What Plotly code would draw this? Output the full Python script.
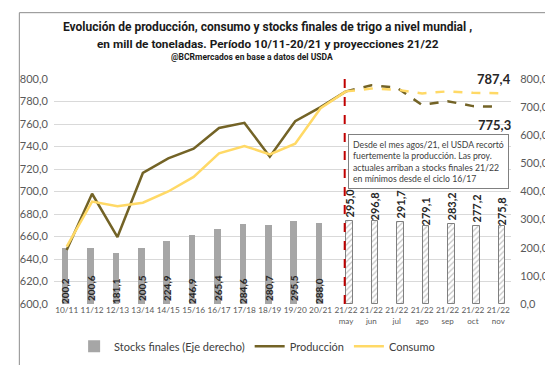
import plotly.graph_objects as go

# ---------------- data ----------------
categories = ["10/11", "11/12", "12/13", "13/14", "14/15", "15/16", "16/17", "17/18",
              "18/19", "19/20", "20/21", "21/22 may", "21/22 jun", "21/22 jul",
              "21/22 ago", "21/22 sep", "21/22 oct", "21/22 nov"]
tick_top = ["10/11", "11/12", "12/13", "13/14", "14/15", "15/16", "16/17", "17/18",
            "18/19", "19/20", "20/21", "21/22", "21/22", "21/22", "21/22", "21/22",
            "21/22", "21/22"]
tick_month = ["", "", "", "", "", "", "", "", "", "", "",
              "may", "jun", "jul", "ago", "sep", "oct", "nov"]

produccion = [648.0, 698.0, 659.5, 716.5, 729.5, 738.0, 756.5, 761.0, 731.0, 762.5, 775.0,
              789.0, 794.4, 792.4, 776.9, 780.3, 775.9, 775.3]
consumo = [651.0, 691.0, 687.0, 690.0, 700.0, 713.0, 734.0, 740.5, 733.0, 742.5, 774.0,
           789.0, 791.5, 790.5, 787.2, 789.0, 787.7, 787.4]
stocks_hist = [200.2, 200.6, 181.1, 200.5, 224.9, 246.9, 265.4, 284.6, 280.7, 295.5, 288.0]
stocks_proj = [295.0, 296.8, 291.7, 279.1, 283.2, 277.2, 275.8]

n_hist = len(stocks_hist)
hist_cats = categories[:n_hist]
proj_cats = categories[n_hist:]

# ---------------- layout helpers ----------------
W, H = 553, 365
ML, MR, MT, MB = 42, 43, 71, 65
PW, PH = W - ML - MR, H - MT - MB


def px(x):
    return (x - ML) / PW


def py(y):
    return (H - MB - y) / PH


PROD_C = "#736326"
CONS_C = "#FFD966"
BAR_C = "#A6A6A6"
TXT = "#404040"
FONT = "Lato, Open Sans, sans-serif"
TFONT = "Roboto, Lato, sans-serif"

fmt = lambda v: f"{v:.1f}".replace(".", ",")

fig = go.Figure()

# bars (right axis -> primary y)
fig.add_trace(go.Bar(
    x=hist_cats, y=stocks_hist, name="Stocks finales (Eje derecho)",
    marker=dict(color=BAR_C, line=dict(width=0)),
    width=0.26, offset=-0.19,
    text=[fmt(v) for v in stocks_hist], textposition="inside", insidetextanchor="start",
    textangle=-90, constraintext="none",
    textfont=dict(family=FONT, size=10, color="#262626", weight="bold"),
    yaxis="y", showlegend=True, hoverinfo="skip"))
fig.add_trace(go.Bar(
    x=proj_cats, y=stocks_proj, name="Stocks proy",
    marker=dict(color="white", line=dict(color="#7F7F7F", width=1),
                pattern=dict(shape="/", fgcolor="#8C8C8C", bgcolor="white", size=4, solidity=0.3)),
    width=0.26, offset=0.02,
    text=[fmt(v) for v in stocks_proj], textposition="outside",
    textangle=-90, constraintext="none", cliponaxis=False,
    textfont=dict(family=FONT, size=11, color="#262626", weight="bold"),
    yaxis="y", showlegend=False, hoverinfo="skip"))

# lines (left axis -> y2)
split = n_hist  # index of "21/22 may"
fig.add_trace(go.Scatter(
    x=categories[:split + 1], y=produccion[:split + 1], mode="lines", name="Producción",
    line=dict(color=PROD_C, width=2.5), yaxis="y2"))
fig.add_trace(go.Scatter(
    x=categories[split:], y=produccion[split:], mode="lines", showlegend=False,
    line=dict(color=PROD_C, width=2.5, dash="dash"), yaxis="y2"))
fig.add_trace(go.Scatter(
    x=categories[:split + 1], y=consumo[:split + 1], mode="lines", name="Consumo",
    line=dict(color=CONS_C, width=2.5), yaxis="y2"))
fig.add_trace(go.Scatter(
    x=categories[split:], y=consumo[split:], mode="lines", showlegend=False,
    line=dict(color=CONS_C, width=2.5, dash="dash"), yaxis="y2"))

ticktext = [t if m == "" else f"{t}<br><span style='font-size:8px'>{m}</span>"
            for t, m in zip(tick_top, tick_month)]

fig.update_layout(
    width=W, height=H, margin=dict(l=ML, r=MR, t=MT, b=MB),
    paper_bgcolor="white", plot_bgcolor="white",
    separators=",.",
    font=dict(family=FONT, color="#595959"),
    barmode="overlay", bargap=0,
    xaxis=dict(type="category", categoryorder="array", categoryarray=categories,
               tickvals=categories, ticktext=ticktext, tickangle=0,
               tickfont=dict(size=8.3, color="#595959"),
               showgrid=False, showline=False, zeroline=False, ticks="", range=[-0.5, 17.5]),
    yaxis=dict(side="right", range=[0, 800], dtick=100, tickformat=".1f", showgrid=False,
               zeroline=False, showline=False, tickfont=dict(size=11, color="#595959"),
               ticks="outside", ticklen=6, tickcolor="rgba(0,0,0,0)"),
    yaxis2=dict(side="left", overlaying="y", range=[600, 800], dtick=20, tickformat=".1f",
                showgrid=True, gridcolor="#D9D9D9", gridwidth=1, zeroline=False, showline=False,
                tickfont=dict(size=11, color="#595959"), ticks="outside", ticklen=3,
                tickcolor="rgba(0,0,0,0)"),
    legend=dict(orientation="h", x=px(250), xanchor="center", y=py(343), yanchor="middle",
                font=dict(size=11, color=TXT, family=FONT), itemwidth=30,
                bgcolor="rgba(0,0,0,0)", traceorder="normal"),
    showlegend=True,
)

# red dashed divider
fig.add_shape(type="line", xref="x", yref="paper", x0=10.95, x1=10.95, y0=0, y1=1,
              line=dict(color="#C00000", width=2, dash="dash"), layer="above")

# end-value labels
fig.add_annotation(x=categories[-1], y=consumo[-1], yref="y2", text=f"<b>{fmt(consumo[-1])}</b>",
                   showarrow=False, xshift=-4, yshift=14, font=dict(size=13, color="#262626", family=FONT))
fig.add_annotation(x=categories[-1], y=produccion[-1], yref="y2", text=f"<b>{fmt(produccion[-1])}</b>",
                   showarrow=False, xshift=-4, yshift=-18, font=dict(size=13, color="#262626", family=FONT))

# text box
fig.add_annotation(
    xref="paper", yref="paper", x=px(343), y=py(127), xanchor="left", yanchor="top",
    text=("Desde el mes agos/21, el USDA recortó<br>fuertemente la producción. Las proy.<br>"
          "actuales arriban a stocks finales 21/22<br>en mínimos desde el ciclo 16/17"),
    align="left", showarrow=False, bgcolor="white", bordercolor="#808080", borderwidth=1,
    borderpad=4, font=dict(size=8.7, color=TXT, family=FONT))

# titles
fig.add_annotation(xref="paper", yref="paper", x=px(261), y=py(18), xanchor="center", yanchor="middle",
                   text="<b>Evolución de producción, consumo y stocks finales de trigo a nivel mundial ,</b>",
                   showarrow=False, font=dict(size=12, color="#1A1A1A", family=TFONT))
fig.add_annotation(xref="paper", yref="paper", x=px(261), y=py(35), xanchor="center", yanchor="middle",
                   text="<b>en mill de toneladas. Período 10/11-20/21 y proyecciones 21/22</b>",
                   showarrow=False, font=dict(size=11.8, color="#1A1A1A", family=TFONT))
fig.add_annotation(xref="paper", yref="paper", x=px(245), y=py(49), xanchor="center", yanchor="middle",
                   text="<b>@BCRmercados en base a datos del USDA</b>",
                   showarrow=False, font=dict(size=8.5, color="#1A1A1A", family=TFONT))

# clip right edge + frame
fig.add_shape(type="rect", xref="paper", yref="paper", x0=px(549.5), x1=px(560), y0=py(370), y1=py(-5),
              fillcolor="white", line=dict(width=0), layer="above")
fig.add_shape(type="rect", xref="paper", yref="paper", x0=px(6.5), x1=px(549.5), y0=py(363), y1=py(3.5),
              line=dict(color="#8C8C8C", width=1), fillcolor="rgba(0,0,0,0)", layer="above")

fig.write_html("out.html")
